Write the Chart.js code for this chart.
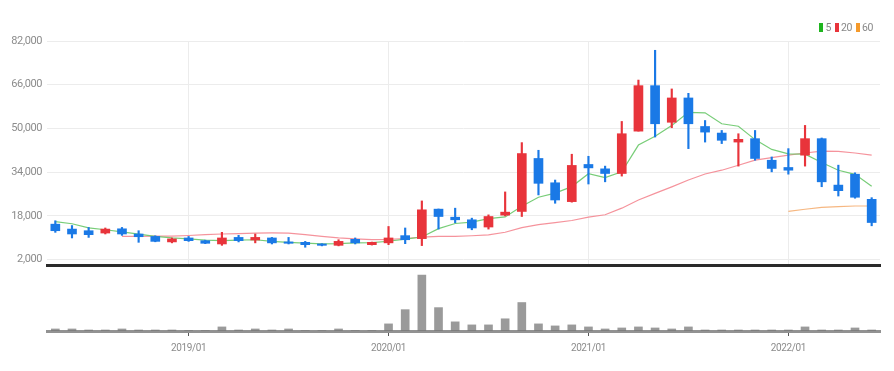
<!DOCTYPE html>
<html>
<head>
<meta charset="utf-8">
<title>Monthly candles</title>
<script src="https://cdn.jsdelivr.net/npm/chart.js@4.4.0/dist/chart.umd.min.js"></script>
<style>
  html, body { margin: 0; padding: 0; background: #fff; }
  #wrap { position: relative; width: 894px; height: 371px; }
  #price { position: absolute; left: 0; top: 0; }
  #vol { position: absolute; left: 0; top: 268px; }
  #legend {
    position: absolute; right: 21px; top: 21px; height: 12px;
    display: flex; align-items: center;
    font: 10.5px Roboto, sans-serif; letter-spacing: -0.4px; color: #888;
  }
  #legend .sw { display: inline-block; width: 4px; height: 9px; margin-right: 2px; }
  #legend .tx { margin-right: 4px; }
  #legend .tx:last-child { margin-right: 0; }
</style>
</head>
<body>
<div id="wrap">
  <canvas id="price" width="894" height="268"></canvas>
  <canvas id="vol" width="894" height="103"></canvas>
  <div id="legend"></div>
</div>
<script>
// monthly bars, 2018/05 .. 2022/06
const months = [
  '2018/05','2018/06','2018/07','2018/08','2018/09','2018/10','2018/11','2018/12',
  '2019/01','2019/02','2019/03','2019/04','2019/05','2019/06','2019/07','2019/08','2019/09','2019/10','2019/11','2019/12',
  '2020/01','2020/02','2020/03','2020/04','2020/05','2020/06','2020/07','2020/08','2020/09','2020/10','2020/11','2020/12',
  '2021/01','2021/02','2021/03','2021/04','2021/05','2021/06','2021/07','2021/08','2021/09','2021/10','2021/11','2021/12',
  '2022/01','2022/02','2022/03','2022/04','2022/05','2022/06'
];

const opens = [
  14950, 13150, 12550, 11700, 13250, 11350, 10450, 8450,
  9900, 8900, 7700, 10100, 9150, 9900, 8450, 8300, 7700, 7200, 9400, 7450,
  8100, 10750, 9650, 20450, 17500, 16550, 13900, 18250, 19600, 39000, 30100, 23200,
  36800, 35200, 33500, 49000, 65650, 52250, 61150, 50700, 48300, 45000, 46250, 38350,
  35700, 40200, 46250, 29250, 33250, 24050
];
const highs = [
  16200, 14450, 13750, 13550, 13750, 12550, 10700, 9900,
  10450, 9100, 11950, 10850, 11350, 10100, 10100, 8650, 7800, 9250, 9900, 8400,
  14100, 13550, 23450, 20500, 20800, 17150, 18350, 26750, 44800, 42000, 31100, 40550,
  39800, 36200, 52550, 67700, 78600, 64450, 62850, 52900, 49250, 48050, 49250, 39550,
  42600, 51100, 46500, 36550, 33750, 24650
];
const lows = [
  11950, 9900, 10100, 11350, 10850, 8300, 8500, 8100,
  8650, 7800, 7200, 8450, 8100, 7700, 7700, 6500, 7000, 7000, 7700, 7300,
  7450, 7800, 7100, 13150, 15450, 12900, 13150, 18000, 17750, 25650, 22600, 23000,
  29650, 30450, 32550, 49000, 46850, 50250, 42600, 45000, 44450, 36200, 38350, 34100,
  33250, 36200, 28650, 25250, 24450, 14350
];
const closes = [
  12550, 11350, 11100, 13150, 11350, 10350, 8650, 9550,
  8900, 7950, 9900, 8900, 10100, 8100, 7950, 7450, 7200, 8650, 8100, 8300,
  9900, 9250, 20200, 17750, 16550, 13550, 17750, 19350, 40800, 29900, 23800, 36450,
  35550, 33500, 48050, 65650, 51700, 61150, 51700, 48650, 45650, 46000, 39000, 35350,
  34700, 46250, 30450, 27200, 24800, 15550
];

// moving averages as drawn
const ma5 = [
  15900, 15100, 13600, 12900, 12100, 11300, 10500, 9900,
  9550, 9100, 8900, 9100, 9250, 8650, 8300, 8000, 7750, 7800, 8100, 8200,
  8700, 9500, 10250, 13300, 15200, 15700, 17000, 17600, 21500, 24800, 26300, 28700,
  33400, 32000, 34100, 43900, 47100, 51100, 55900, 55700, 51700, 50800, 45900, 42300,
  40700, 40600, 37500, 34700, 33200, 28800
];
const ma20 = [
  null, null, null, null, 10500, 10500, 10600, 10600,
  10800, 11100, 11350, 11500, 11700, 11750, 11700, 11100, 10500, 9900, 9550, 9300,
  9400, 9700, 10200, 10450, 10500, 10700, 11000, 12000, 13700, 14800, 15500, 16300,
  17500, 18400, 20800, 23800, 26200, 28600, 31100, 33300, 34700, 36500, 38400, 39300,
  40200, 41000, 41700, 41600, 41000, 40200
];
const ma60 = [
  null, null, null, null, null, null, null, null,
  null, null, null, null, null, null, null, null, null, null, null, null,
  null, null, null, null, null, null, null, null, null, null, null, null,
  null, null, null, null, null, null, null, null, null, null, null, null,
  19600, 20400, 21100, 21400, 21600, 21600
];

const volumes = [
  2, 2, 1, 1, 2, 1, 1, 1,
  0.5, 0.5, 4, 1, 2, 1, 2, 0.5, 0.5, 2, 0.5, 0.5,
  7, 21, 55, 23, 9, 6, 6, 12, 28, 7, 5, 6,
  4, 2, 3, 4, 3, 2, 4, 1, 1, 1, 1, 1,
  1, 4, 1, 1, 3, 1
];

const yTicks = [2000, 18000, 34000, 50000, 66000, 82000];
const maNames = ['5', '20', '60'];
const maSwatches = ['#1fb51f', '#e8343b', '#f59a2b'];

const UP = '#e8343b';
const DOWN = '#1a79e6';
const FONT = "'Liberation Sans Narrow', 'Roboto', sans-serif";
const candleColors = months.map((m, i) => closes[i] >= opens[i] ? UP : DOWN);
const isJan = i => months[i].endsWith('/01');
const fixWidth = s => { s.width = 47; s.paddingTop = 0; s.paddingBottom = 0; };

// slightly tighter text, closer to the condensed labels of the original
const tightText = {
  id: 'tightText',
  beforeDraw: chart => { chart.ctx.letterSpacing = '-0.4px'; }
};

// small legend for the moving averages, top right
const legendEl = document.getElementById('legend');
maNames.forEach((n, i) => {
  const sw = document.createElement('span');
  sw.className = 'sw';
  sw.style.background = maSwatches[i];
  const tx = document.createElement('span');
  tx.className = 'tx';
  tx.textContent = n;
  legendEl.appendChild(sw);
  legendEl.appendChild(tx);
});

new Chart(document.getElementById('price'), {
  type: 'bar',
  data: {
    labels: months,
    datasets: [
      { label: '5', type: 'line', data: ma5, borderColor: 'rgba(105,200,105,0.9)', borderWidth: 1.2, pointRadius: 0, order: 3 },
      { label: '20', type: 'line', data: ma20, borderColor: 'rgba(244,135,145,0.9)', borderWidth: 1.2, pointRadius: 0, order: 3 },
      { label: '60', type: 'line', data: ma60, borderColor: 'rgba(245,175,115,0.9)', borderWidth: 1.2, pointRadius: 0, order: 3 },
      { label: 'wick', data: months.map((m, i) => [lows[i], highs[i]]), backgroundColor: candleColors, barThickness: 1.5, grouped: false, order: 1 },
      { label: 'body', data: months.map((m, i) => [opens[i], closes[i]]), backgroundColor: candleColors, barThickness: 9, grouped: false, order: 0 }
    ]
  },
  plugins: [tightText],
  options: {
    responsive: false,
    animation: false,
    layout: { padding: { top: 41, right: 14, left: 0, bottom: 0 } },
    plugins: {
      tooltip: { enabled: false },
      legend: { display: false }
    },
    scales: {
      x: {
        offset: true,
        ticks: { display: false, autoSkip: false },
        grid: {
          offset: false,
          drawTicks: false,
          color: ctx => isJan(ctx.index) ? '#ececec' : 'rgba(0,0,0,0)'
        },
        border: { color: '#2a2a2a', width: 3 },
        afterFit: s => { s.height = 3; }
      },
      y: {
        min: 0,
        max: 82000,
        afterBuildTicks: s => { s.ticks = yTicks.map(v => ({ value: v })); },
        afterFit: fixWidth,
        ticks: {
          color: '#8c8c8c',
          padding: 5,
          font: { family: FONT, size: 11 },
          callback: v => v.toLocaleString('en-US')
        },
        grid: { color: '#ececec', drawTicks: false },
        border: { display: false }
      }
    }
  }
});

new Chart(document.getElementById('vol'), {
  type: 'bar',
  data: {
    labels: months,
    datasets: [
      { label: 'volume', data: volumes, backgroundColor: 'rgba(120,120,120,0.75)', barThickness: 8 }
    ]
  },
  plugins: [tightText],
  options: {
    responsive: false,
    animation: false,
    layout: { padding: { top: 2, right: 14, left: 0, bottom: 11 } },
    plugins: { legend: { display: false }, tooltip: { enabled: false } },
    scales: {
      x: {
        offset: true,
        ticks: {
          autoSkip: false,
          maxRotation: 0,
          padding: 6,
          color: '#8c8c8c',
          font: { family: FONT, size: 10 },
          callback: (v, i) => isJan(i) ? months[i] : ''
        },
        grid: {
          offset: false,
          drawOnChartArea: false,
          tickLength: 5,
          color: ctx => isJan(ctx.index) ? '#555' : 'rgba(0,0,0,0)'
        },
        border: { color: 'rgba(110,110,110,0.75)', width: 3 }
      },
      y: {
        min: 0,
        max: 60,
        afterFit: fixWidth,
        ticks: { display: false },
        grid: { display: false },
        border: { display: false }
      }
    }
  }
});
</script>
</body>
</html>
